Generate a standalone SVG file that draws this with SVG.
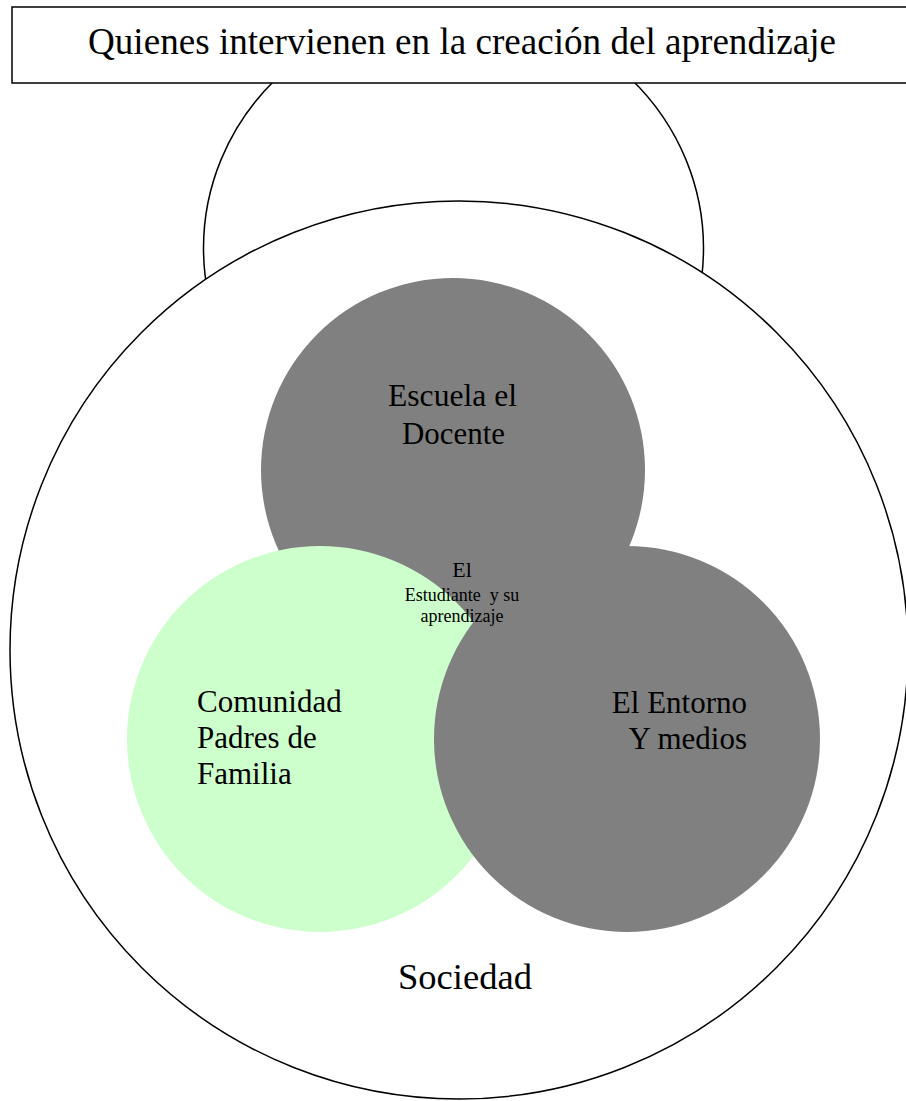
<svg xmlns="http://www.w3.org/2000/svg" width="906" height="1101" viewBox="0 0 906 1101">
<style>
.outline{fill:#fff;stroke:#000;stroke-width:1.5}
.t{font-family:"Liberation Serif","Times New Roman",serif;fill:#000}
</style>
<rect width="906" height="1101" fill="#fff"/>
<g id="top-circle"><ellipse class="outline" cx="453.5" cy="248" rx="250" ry="240"/></g>
<g id="title"><rect class="outline" x="12" y="7" width="900" height="76"/>
<text class="t" x="88" y="54" font-size="38" textLength="748" lengthAdjust="spacingAndGlyphs">Quienes intervienen en la creación del aprendizaje</text></g>
<g id="sociedad"><circle class="outline" cx="459" cy="650" r="449"/>
<text class="t" x="398" y="989" font-size="36" textLength="134" lengthAdjust="spacingAndGlyphs">Sociedad</text></g>
<g id="escuela"><circle cx="453" cy="470" r="192" fill="#808080"/>
<text class="t" font-size="31"><tspan x="388" y="406" textLength="129" lengthAdjust="spacingAndGlyphs">Escuela el</tspan><tspan x="402" y="444" textLength="103" lengthAdjust="spacingAndGlyphs">Docente</tspan></text></g>
<g id="comunidad"><circle cx="320" cy="739" r="193" fill="#ccffcc"/>
<text class="t" font-size="31"><tspan x="197" y="712">Comunidad</tspan><tspan x="197" y="748">Padres de</tspan><tspan x="197" y="784">Familia</tspan></text></g>
<g id="entorno"><circle cx="627" cy="739" r="193" fill="#808080"/>
<text class="t" font-size="31" text-anchor="end"><tspan x="747" y="713">El Entorno</tspan><tspan x="747" y="749">Y medios</tspan></text></g>
<g id="estudiante"><text class="t" text-anchor="middle" xml:space="preserve" style="white-space:pre"><tspan x="462" y="577" font-size="22">El</tspan><tspan x="462" y="601" font-size="18">Estudiante  y su</tspan><tspan x="462" y="622" font-size="18">aprendizaje</tspan></text></g>
<g id="connectors"/>
</svg>
